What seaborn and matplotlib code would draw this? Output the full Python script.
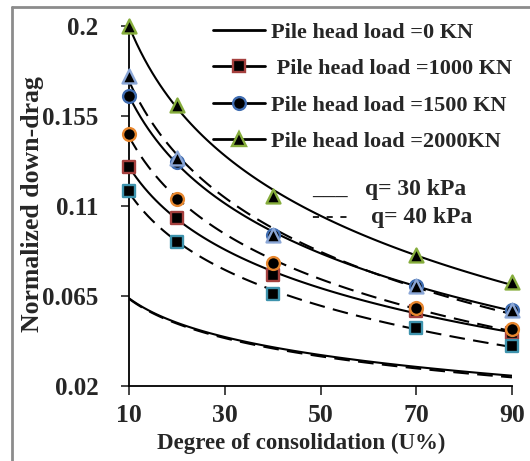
import numpy as np
import matplotlib
matplotlib.use("Agg")
import matplotlib.pyplot as plt
from matplotlib.lines import Line2D
import seaborn as sns

# ---- data ----
U = [10, 20, 40, 70, 90]
load0_q30 = [0.0637, 0.0515, 0.0393, 0.0294, 0.0250]
load0_q40 = [0.0635, 0.0510, 0.0386, 0.0287, 0.0242]
load1000_q30 = [0.1295, 0.1040, 0.0754, 0.0574, 0.0465]
load1500_q30 = [0.1648, 0.1320, 0.0954, 0.0700, 0.0580]
load2000_q30 = [0.2000, 0.1603, 0.1150, 0.0854, 0.0717]
load1000_q40 = [0.1173, 0.0920, 0.0659, 0.0490, 0.0399]
load1500_q40 = [0.1457, 0.1132, 0.0812, 0.0590, 0.0482]
load2000_q40 = [0.1748, 0.1337, 0.0954, 0.0699, 0.0579]

legend_labels = ["Pile head load =0 KN", " Pile head load =1000 KN",
                 "Pile head load =1500 KN", "Pile head load =2000KN"]
x_ticks = [10, 30, 50, 70, 90]
y_ticks = [0.02, 0.065, 0.11, 0.155, 0.2]
y_tick_labels = ["0.02", "0.065", "0.11", "0.155", "0.2"]

# ---- style ----
sns.set_style("ticks")
plt.rcParams["font.family"] = ["Liberation Serif", "DejaVu Serif"]
plt.rcParams["font.weight"] = "bold"

W, H = 530, 461
fig = plt.figure(figsize=(W / 100, H / 100), dpi=100)
x0, x1, ytop, ybot = 129, 512, 25.7, 385.7
ax = fig.add_axes([x0 / W, 1 - ybot / H, (x1 - x0) / W, (ybot - ytop) / H])

RED, TEAL, ORANGE, BLUE, GREEN, LBLUE = "#A5403E", "#3E93AD", "#E8872E", "#3F6CB0", "#86AD3C", "#8AA6D6"
DASH = (7.5, 4)

# trend lines (logarithmic fits, as in the original)
solid = dict(color="black", lw=1.5)
dashed = dict(color="black", lw=1.5, ls=(0, DASH))
for ys, kw in [(load0_q30, solid), (load0_q40, dashed),
               (load1000_q30, solid), (load1500_q30, solid), (load2000_q30, solid),
               (load1000_q40, dashed), (load1500_q40, dashed), (load2000_q40, dashed)]:
    sns.regplot(x=U, y=ys, logx=True, ci=None, scatter=False, ax=ax, line_kws=kw)

# markers
MS = {"s": 78, "o": 85, "^": 100}
for ys, m, c in [(load1000_q30, "s", RED), (load1500_q30, "o", BLUE), (load2000_q30, "^", GREEN),
                 (load1000_q40, "s", TEAL), (load1500_q40, "o", ORANGE), (load2000_q40, "^", LBLUE)]:
    sns.scatterplot(x=U, y=ys, marker=m, s=MS[m], color="black", edgecolor=c,
                    linewidth=1.7, ax=ax, clip_on=False, zorder=5, legend=False)

ax.set_xlim(10, 90)
ax.set_ylim(0.02, 0.2)
ax.set_xticks(x_ticks)
ax.set_yticks(y_ticks)
ax.set_yticklabels(y_tick_labels)
for lab in ax.get_xticklabels() + ax.get_yticklabels():
    lab.set_fontweight("bold")
ax.tick_params(axis="y", direction="out", length=6, width=1.2, pad=16, labelsize=18)
ax.tick_params(axis="x", direction="out", length=6.5, width=1.2, pad=7, labelsize=18.5)
sns.despine(ax=ax)
for sp in ["left", "bottom"]:
    ax.spines[sp].set_linewidth(1.3)
    ax.spines[sp].set_color("black")
ax.patch.set_alpha(0)

ax.set_ylabel("Normalized down-drag", fontsize=18.5, fontweight="bold")
ax.yaxis.set_label_coords((44 - x0) / (x1 - x0), 0.505)
ax.set_xlabel("Degree of consolidation (U%)", fontsize=16.5, fontweight="bold")
ax.xaxis.set_label_coords((301.5 - x0) / (x1 - x0), (ybot - 433) / (ybot - ytop))

# legend
handles = [
    Line2D([], [], color="black", lw=2),
    Line2D([], [], color="black", lw=2, marker="s", ms=9, mfc="black", mec=RED, mew=1.7),
    Line2D([], [], color="black", lw=2, marker="o", ms=9.2, mfc="black", mec=BLUE, mew=1.7),
    Line2D([], [], color="black", lw=2, marker="^", ms=9.8, mfc="black", mec=GREEN, mew=1.7),
]
leg = fig.legend(handles, legend_labels, loc="upper left",
                 bbox_to_anchor=(213 / W, 1 - 22 / H), frameon=False,
                 prop=dict(family="Liberation Serif", weight="bold", size=16),
                 handlelength=2.35, handletextpad=0.25, labelspacing=0.72,
                 borderpad=0, borderaxespad=0)

# q legend (text)
tkw = dict(fontsize=17, fontweight="bold", va="baseline", ha="left")
fig.text(312 / W, 1 - 195 / H, "___", **tkw)
fig.text(365 / W, 1 - 195 / H, "q= 30 kPa", **tkw)
fig.text(312 / W, 1 - 223 / H, "- - -", **tkw)
fig.text(371 / W, 1 - 223 / H, "q= 40 kPa", **tkw)

# chart-area border (gray, left and top)
bc = "#8c8c8c"
fig.add_artist(Line2D([12 / W, 12 / W], [0, 1 - 7.5 / H], color=bc, lw=2, transform=fig.transFigure))
fig.add_artist(Line2D([12 / W, 1], [1 - 7.5 / H, 1 - 7.5 / H], color=bc, lw=2, transform=fig.transFigure))

fig.savefig("out.png", dpi=100, facecolor="white")
